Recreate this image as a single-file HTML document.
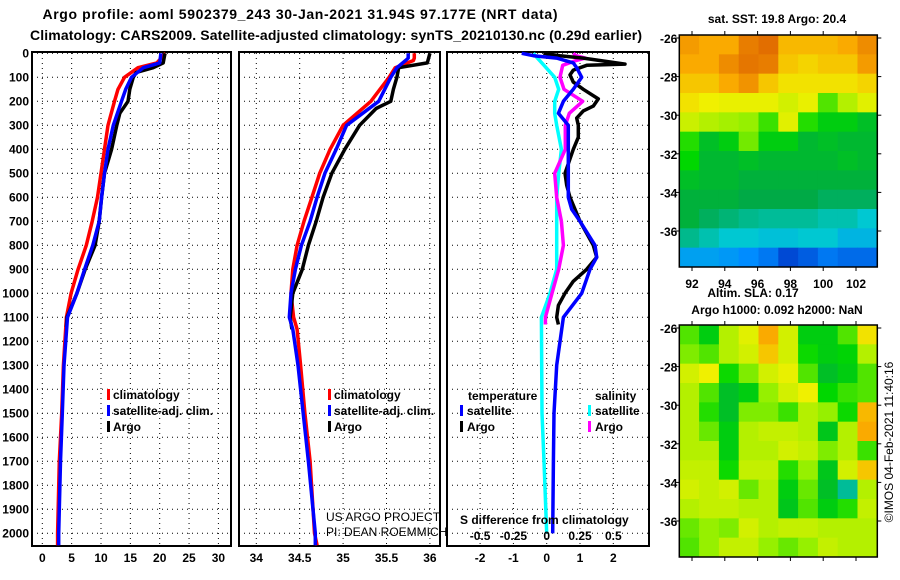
<!DOCTYPE html>
<html><head><meta charset="utf-8"><style>
html,body{margin:0;padding:0;background:#fff}
svg{display:block;font-family:"Liberation Sans",sans-serif}
</style></head><body>
<svg id="s" width="900" height="580" xmlns="http://www.w3.org/2000/svg">
<text font-weight="bold" x="300" y="19" font-size="14" text-anchor="middle" textLength="515">Argo profile: aoml 5902379_243 30-Jan-2021 31.94S 97.177E (NRT data)</text>
<text font-weight="bold" x="336" y="40" font-size="14" text-anchor="middle" textLength="612">Climatology: CARS2009. Satellite-adjusted climatology: synTS_20210130.nc (0.29d earlier)</text>
<g id="plots"></g>
</svg>
<script>
// depth levels (m)
const depthsUpper=[0,40,60,100,150,200,300,400,500,600,700,800,900,1000,1100,1300,1500,1700,2000,2050];
const tempClim=[21,19.5,16.3,14,12.9,12.3,11.2,10.6,10,9.4,8.5,7.5,6.1,4.9,4.1,3.6,3.3,2.9,2.6,2.6];
const tempSat=[20.2,20.0,17.2,15.2,14.2,13.5,12.1,11.2,10.6,10.1,9.7,8.6,7.2,5.9,4.3,3.7,3.4,3.1,2.8,2.8];
const depthsArgo=[0,40,60,80,100,150,200,250,300,400,500,600,700,800,900,1000,1100,1140];
const tempArgo=[20.9,20.6,18.9,16,15.5,14.9,14.6,13.2,12.7,11.8,10.6,10.1,9.7,9.0,7.3,5.9,4.2,4.1];
const salDepths=[0,20,30,60,100,200,300,400,500,600,700,800,900,1000,1100,1150,1300,1500,1700,2000,2050];
const salClim=[35.82,35.82,35.81,35.6,35.53,35.32,35.0,34.85,34.73,34.64,34.55,34.47,34.42,34.4,34.43,34.47,34.51,34.56,34.62,34.67,34.7];
const salSat=[35.75,35.75,35.72,35.62,35.55,35.41,35.04,34.92,34.79,34.7,34.62,34.52,34.45,34.4,34.38,34.42,34.48,34.54,34.6,34.68,34.68];
const salArgoDepths=[0,40,60,100,150,200,230,300,400,500,600,700,800,900,1000,1100,1150];
const salArgo=[36.0,35.97,35.64,35.62,35.58,35.55,35.38,35.19,35.02,34.87,34.77,34.69,34.6,34.53,34.42,34.39,34.41];
// differences
const dTArgoDepths=[0,10,20,45,50,70,90,120,150,190,220,240,270,300,350,400,500,550,600,700,800,850,900,950,1000,1050,1100,1130];
const dTArgo=[-0.1,0.4,1.1,2.35,1.2,0.8,0.7,0.8,1.1,1.55,1.4,1.1,0.9,0.95,0.95,0.8,0.55,0.6,0.7,1.0,1.4,1.5,1.2,0.8,0.55,0.35,0.3,0.35];
const dTSatDepths=[0,10,20,40,60,100,150,200,250,300,400,500,600,650,700,800,850,900,1000,1100,1300,1500,1700,2000];
const dTSat=[-0.75,-0.4,0.3,0.8,0.9,1.05,0.8,0.5,0.35,0.65,0.65,0.65,0.65,0.75,1.0,1.45,1.5,1.3,1.05,0.5,0.3,0.22,0.2,0.18];
const dSSatDepths=[0,20,50,100,150,200,250,300,400,500,600,700,800,900,1000,1100,1500,1700,2000];
const dSSat=[-0.1,-0.07,-0.02,0.06,0.09,0.06,0.06,0.075,0.11,0.09,0.075,0.075,0.075,0.075,0.025,-0.04,-0.035,-0.02,0.0];
const dSArgoDepths=[0,10,20,30,50,100,150,200,250,300,400,450,500,600,700,800,900,1000,1100,1130];
const dSArgo=[0.2,0.22,0.29,0.22,0.12,0.1,0.13,0.27,0.17,0.14,0.14,0.1,0.06,0.075,0.11,0.125,0.09,0.04,-0.01,-0.01];
const depthTicks=[0,100,200,300,400,500,600,700,800,900,1000,1100,1200,1300,1400,1500,1600,1700,1800,1900,2000];
const tempTicks=[0,5,10,15,20,25,30];
const salTicks=[34,34.5,35,35.5,36];
const salTickLabels=["34","34.5","35","35.5","36"];
const diffTTicks=[-2,-1,0,1,2];
const diffSTicks=[-0.5,-0.25,0,0.25,0.5];
const diffSTickLabels=["-0.5","-0.25","0","0.25","0.5"];
// map grids (normalised colour index 0..1), rows north->south
const sstGrid=[
[.92,.9,.9,.96,.98,.88,.88,.88,.9,.94],[.9,.9,.94,.97,.96,.86,.84,.86,.86,.92],
[.86,.86,.9,.93,.86,.82,.82,.82,.82,.84],[.82,.8,.79,.79,.79,.76,.79,.62,.72,.78],
[.75,.72,.7,.68,.6,.78,.58,.52,.52,.48],[.58,.48,.52,.65,.52,.52,.46,.48,.46,.46],
[.55,.46,.46,.48,.46,.46,.46,.46,.48,.46],[.48,.46,.46,.44,.44,.44,.44,.44,.44,.44],
[.44,.44,.44,.42,.42,.42,.42,.4,.4,.4],[.44,.4,.38,.36,.35,.35,.35,.33,.33,.3],
[.36,.33,.3,.3,.28,.28,.3,.3,.25,.25],[.2,.2,.18,.15,.12,.05,.08,.12,.1,.1]];
const slaGrid=[
[.62,.52,.72,.78,.9,.76,.52,.52,.62,.82],[.66,.62,.72,.76,.86,.76,.56,.52,.54,.72],
[.76,.8,.56,.66,.76,.79,.62,.48,.52,.62],[.72,.62,.48,.52,.68,.76,.8,.55,.6,.62],
[.72,.58,.48,.66,.66,.6,.72,.68,.56,.88],[.72,.64,.52,.72,.74,.74,.72,.5,.72,.9],
[.72,.72,.52,.72,.72,.76,.74,.66,.72,.6],[.74,.74,.56,.74,.74,.58,.68,.5,.76,.86],
[.76,.74,.76,.64,.72,.52,.64,.48,.35,.72],[.72,.74,.74,.72,.72,.5,.62,.52,.58,.74],
[.64,.68,.66,.76,.72,.74,.74,.72,.72,.72],[.62,.68,.74,.74,.68,.64,.68,.74,.72,.72]];
const lonTicks=[92,94,96,98,100,102];
const latTicks=[-26,-28,-30,-32,-34,-36];

const NS="http://www.w3.org/2000/svg";
const root=document.getElementById('plots');
function mk(tag,attrs,parent){const e=document.createElementNS(NS,tag);for(const k in attrs)e.setAttribute(k,attrs[k]);(parent||root).appendChild(e);return e;}
function txt(x,y,s,size,bold,anchor){const t=mk('text',{x:x,y:y,'font-size':size,'text-anchor':anchor||'middle'});if(bold)t.setAttribute('font-weight','bold');t.textContent=s;return t;}
const yD=d=>53.3+d*0.24;
const P1={l:32,r:231,x:v=>42.3+v*5.87};
const P2={l:239,r:440,x:v=>256.3+(v-34)*86.8};
const P3={l:447,r:649,x:v=>546.7+v*33.3};
const xS3=v=>546.7+v*133.2;
const TOP=53,BOT=546;

function panel(P,name,xticks,labels){
  const g=mk('g',{});
  
  
  depthTicks.forEach(d=>{const l=mk('line',{x1:P.l,x2:P.r,y1:yD(d),y2:yD(d),stroke:'#000','stroke-width':1,'stroke-dasharray':'1,4'},g);
    });
  xticks.forEach((v,i)=>{const x=P.x(v);const l=mk('line',{x1:x,x2:x,y1:TOP,y2:BOT,stroke:'#000','stroke-width':1,'stroke-dasharray':'1,4'},g);
    
    const t=txt(x,562,labels?labels[i]:String(v),12,true);
    });
  const f=mk('rect',{x:P.l,y:TOP-1,width:P.r-P.l,height:BOT-TOP+1,fill:'none',stroke:'#000','stroke-width':2},g);
  
  return g;
}
function line(xs,ds,xf,color,name,g){
  const pts=xs.map((v,i)=>xf(v).toFixed(1)+','+yD(ds[i]).toFixed(1)).join(' ');
  const p=mk('polyline',{points:pts,fill:'none',stroke:color,'stroke-width':3.5,'stroke-linejoin':'round'},g);
  
}
function legendBar(x,y,color,g){const r=mk('rect',{x:x,y:y-10,width:3,height:11,fill:color},g);
  }
function lt(x,y,s,name,g,bold){const t=txt(x,y,s,12,bold!==false,'start');return t;}

depthTicks.forEach(d=>{const t=txt(29,yD(d)+4,String(d),12,true,'end');
  });

const g1=panel(P1,'temperature-panel',tempTicks);
line(tempClim,depthsUpper,P1.x,'#f00','temp-climatology-line',g1);
line(tempArgo,depthsArgo,P1.x,'#000','temp-argo-line',g1);
line(tempSat,depthsUpper,P1.x,'#00f','temp-satellite-line',g1);
legendBar(107,399,'#f00',g1);lt(113,399,'climatology','legend-climatology',g1);
legendBar(107,415,'#00f',g1);lt(113,415,'satellite-adj. clim.','legend-satellite',g1);
legendBar(107,431,'#000',g1);lt(113,431,'Argo','legend-argo',g1);

const g2=panel(P2,'salinity-panel',salTicks,salTickLabels);
line(salClim,salDepths,P2.x,'#f00','sal-climatology-line',g2);
line(salArgo,salArgoDepths,P2.x,'#000','sal-argo-line',g2);
line(salSat,salDepths,P2.x,'#00f','sal-satellite-line',g2);
legendBar(328,399,'#f00',g2);lt(334,399,'climatology','legend-climatology',g2);
legendBar(328,415,'#00f',g2);lt(334,415,'satellite-adj. clim.','legend-satellite',g2);
legendBar(328,431,'#000',g2);lt(334,431,'Argo','legend-argo',g2);
lt(326,521,'US ARGO PROJECT','credit-project',g2,false);
lt(326,536,'PI: DEAN ROEMMICH','credit-pi',g2,false);

const g3=panel(P3,'difference-panel',diffTTicks);
line(dSSat,dSSatDepths,xS3,'#0ff','sal-diff-satellite-line',g3);
line(dSArgo,dSArgoDepths,xS3,'#f0f','sal-diff-argo-line',g3);
line(dTArgo,dTArgoDepths,P3.x,'#000','temp-diff-argo-line',g3);
line(dTSat,dTSatDepths,P3.x,'#00f','temp-diff-satellite-line',g3);
lt(468,400,'temperature','legend-temperature-title',g3);
legendBar(460,415,'#00f',g3);lt(467,415,'satellite','legend-temp-satellite',g3);
legendBar(460,431,'#000',g3);lt(467,431,'Argo','legend-temp-argo',g3);
lt(595,400,'salinity','legend-salinity-title',g3);
legendBar(588,415,'#0ff',g3);lt(595,415,'satellite','legend-sal-satellite',g3);
legendBar(588,431,'#f0f',g3);lt(595,431,'Argo','legend-sal-argo',g3);
lt(460,524,'S difference from climatology','s-axis-title',g3);
diffSTicks.forEach((v,i)=>{const t=txt(xS3(v),540,diffSTickLabels[i],12,true);
  });

// maps
const stops=[[0,[0,40,190]],[0.15,[0,140,255]],[0.3,[0,200,210]],[0.42,[0,170,70]],[0.55,[0,215,0]],[0.68,[150,240,0]],[0.8,[240,240,0]],[0.9,[250,170,0]],[1,[220,95,0]]];
function cmap(v){for(let i=1;i<stops.length;i++){if(v<=stops[i][0]){const a=stops[i-1],b=stops[i];const t=(v-a[0])/(b[0]-a[0]);
  return 'rgb('+a[1].map((c,k)=>Math.round(c+(b[1][k]-c)*t)).join(',')+')';}}return 'rgb(220,95,0)';}
const ML=679.3,MR=877.3;
const lonX=lon=>692+(lon-92)*16.4;
function drawMap(grid,top,bot,name){
  const g=mk('g',{});
  
  const rows=grid.length,cols=grid[0].length,cw=(MR-ML)/cols,ch=(bot-top)/rows;
  grid.forEach((row,r)=>row.forEach((v,c)=>{const e=mk('rect',{x:ML+c*cw,y:top+r*ch,width:cw+0.5,height:ch+0.5,fill:cmap(v)},g);
    }));
  const f=mk('rect',{x:ML,y:top,width:MR-ML,height:bot-top,fill:'none',stroke:'#000','stroke-width':1.5},g);
  
  const latY=lat=>top+3+(-26-lat)*19.3;
  latTicks.forEach(lat=>{const y=latY(lat);mk('line',{x1:MR,x2:MR+4,y1:y,y2:y,stroke:'#000'},g);mk('line',{x1:ML-4,x2:ML,y1:y,y2:y,stroke:'#000'},g);
    const t=txt(ML-2,y+5,String(lat),12,true,'end');});
  lonTicks.forEach(lon=>{const x=lonX(lon);mk('line',{x1:x,x2:x,y1:bot,y2:bot+4,stroke:'#000'},g);mk('line',{x1:x,x2:x,y1:top-4,y2:top,stroke:'#000'},g);});
  return g;
}
drawMap(sstGrid,35,267,'sst-map');
drawMap(slaGrid,325,557,'sla-map');
lonTicks.forEach(lon=>{const t=txt(lonX(lon),288,String(lon),12,true);});
let t;
t=txt(777,23,'sat. SST: 19.8 Argo: 20.4',12,true);
t=txt(753,297,'Altim. SLA: 0.17',12,true);
t=txt(777,314,'Argo h1000: 0.092 h2000: NaN',12,true);
t=txt(0,0,'©IMOS 04-Feb-2021 11:40:16',12,false);t.setAttribute('transform','translate(893,442) rotate(-90)');

</script>
</body></html>
